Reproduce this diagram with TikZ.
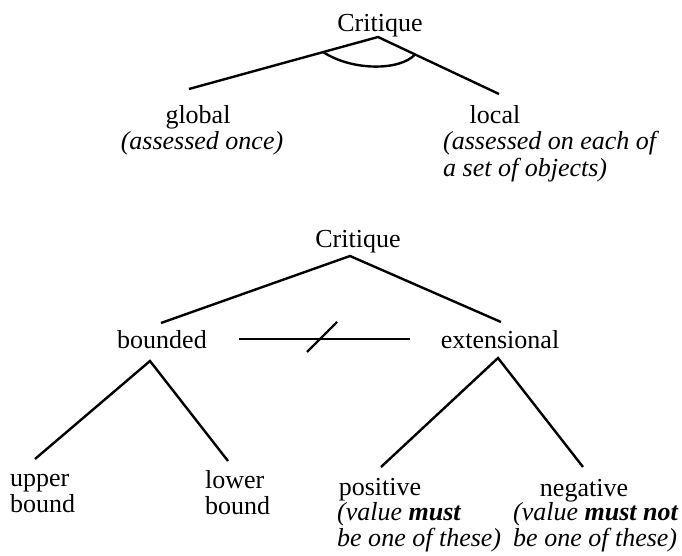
\documentclass[tikz,border=0pt]{standalone}
\usepackage{fontspec}
\setmainfont{Liberation Serif}
\usetikzlibrary{calc}
\newcommand{\lines}[1]{\begin{tabular}[t]{@{}l@{}}#1\end{tabular}}
\begin{document}
\begin{tikzpicture}[x=1pt,y=-1pt,
  conn/.style={line width=2.4pt},
  lbl/.style={inner sep=0pt, font=\fontsize{26}{26}\selectfont, anchor=base},
  multi/.style={lbl, anchor=base west},
  note/.style={lbl, anchor=base west, font=\fontsize{26}{26}\selectfont\itshape}]
\useasboundingbox (0,0) rectangle (682,556);

% ---------- top tree ----------
\node[lbl] (crit1) at (380,32) {Critique};
\node[lbl] (global) at (198,124) {global};
\node[lbl] (local) at (495,124) {local};
\node[note, anchor=base] (globalnote) at (202,150) {(assessed once)};
\node[note] (localnote) at (443,150) {\lines{(assessed on each of\\a set of objects)}};

\coordinate (apex1) at (378,37);
\coordinate (gtop) at (189,89);
\coordinate (ltop) at (499,94);
\draw[conn] (gtop) -- (apex1) -- (ltop);
\draw[conn] ($(apex1)!0.29!(gtop)$) .. controls (352,71) and (400,71) .. ($(apex1)!0.306!(ltop)$);

% ---------- bottom tree ----------
\node[lbl] (crit2) at (358,247) {Critique};
\node[lbl] (bounded) at (162,348) {bounded};
\node[lbl] (ext) at (500,348) {extensional};
\node[multi] (upper) at (10,486) {\lines{upper\\bound}};
\node[multi] (lower) at (205,488) {\lines{lower\\bound}};
\node[lbl] (pos) at (380,495) {positive};
\node[note] (posnote) at (337,520) {\lines{(value \textbf{must}\\be one of these)}};
\node[lbl] (neg) at (584,496) {negative};
\node[note] (negnote) at (513,520) {\lines{(value \textbf{must not}\\be one of these)}};

\coordinate (apex2) at (350,256);
\coordinate (btop) at (161,323);
\coordinate (etop) at (501,322);
\draw[conn] (btop) -- (apex2) -- (etop);

\coordinate (h1) at (239,339);
\coordinate (h2) at (410,339);
\coordinate (s1) at (307,352);
\coordinate (s2) at (337,322);
\draw[conn] (h1) -- (h2);
\draw[conn] (s1) -- (s2);

\coordinate (bapex) at (150,361);
\coordinate (utop) at (35,459);
\coordinate (lotop) at (228,461);
\draw[conn] (utop) -- (bapex) -- (lotop);

\coordinate (eapex) at (498,358);
\coordinate (ptop) at (381,467);
\coordinate (ntop) at (583,467);
\draw[conn] (ptop) -- (eapex) -- (ntop);
\end{tikzpicture}
\end{document}
